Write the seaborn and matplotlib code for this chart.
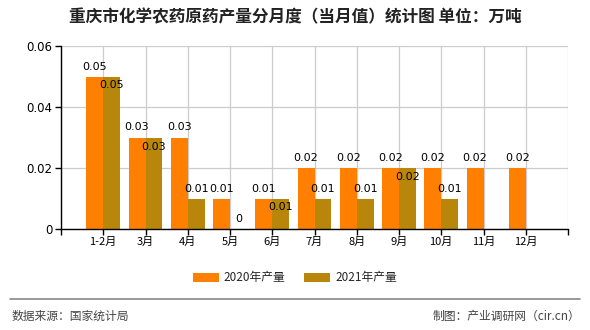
import matplotlib
matplotlib.use("Agg")
import matplotlib.pyplot as plt
import seaborn as sns
import pandas as pd
import numpy as np

categories = ["1-2月", "3月", "4月", "5月", "6月", "7月", "8月", "9月", "10月", "11月", "12月"]
values_2020 = [0.05, 0.03, 0.03, 0.01, 0.01, 0.02, 0.02, 0.02, 0.02, 0.02, 0.02]
values_2021 = [0.05, 0.03, 0.01, 0.0, 0.01, 0.01, 0.01, 0.02, 0.01, np.nan, np.nan]
series_names = ["2020年产量", "2021年产量"]
colors = ["#FF8000", "#B8860B"]
yticks = [0, 0.02, 0.04, 0.06]
ytick_labels = ["0", "0.02", "0.04", "0.06"]

sns.set_theme(style="white")
plt.rcParams['font.family'] = ['Noto Sans CJK SC', 'DejaVu Sans']

df = pd.DataFrame({
    "月份": categories * 2,
    "产量": values_2020 + values_2021,
    "系列": [series_names[0]] * len(categories) + [series_names[1]] * len(categories),
})

fig = plt.figure(figsize=(5.9, 3.3), dpi=100)
ax = fig.add_axes([61 / 590, 1 - 229 / 330, (568 - 61) / 590, (229 - 46) / 330])

sns.barplot(data=df, x="月份", y="产量", hue="系列", order=categories,
            hue_order=series_names, palette=colors, width=0.8, saturation=1,
            ax=ax, legend=False)

for p in ax.patches:
    p.set_edgecolor("none")

ax.set_xlim(-1, len(categories))
ax.set_ylim(0, 0.06)
ax.set_xticks(range(-1, len(categories) + 1))
ax.set_xticklabels([""] + categories + [""], fontsize=8)
ax.set_yticks(yticks)
ax.set_yticklabels(ytick_labels, fontsize=8.5, family="DejaVu Sans")
ax.set_xlabel("")
ax.set_ylabel("")

ax.grid(True, color="#cccccc", linewidth=0.9)
ax.set_axisbelow(True)
for s in ["top", "right"]:
    ax.spines[s].set_visible(False)
for s in ["left", "bottom"]:
    ax.spines[s].set_color("black")
    ax.spines[s].set_linewidth(1)
ax.tick_params(axis="both", which="both", length=4, width=1, color="black", pad=2,
               bottom=True, left=True, labelcolor="black")

# data labels
n = len(categories)
bw = 0.4
for i in range(n):
    v0 = values_2020[i]
    v1 = values_2021[i]
    x0 = i - bw / 2
    x1 = i + bw / 2
    ax.annotate(f"{v0:g}", (x0, v0), xytext=(0, 5), textcoords="offset pixels",
                ha="center", va="bottom", fontsize=8, family="DejaVu Sans", color="black")
    if not np.isnan(v1):
        if abs(v1 - v0) < 1e-9:
            ax.annotate(f"{v1:g}", (x1, v1), xytext=(0, -9), textcoords="offset pixels",
                        ha="center", va="center", fontsize=8, family="DejaVu Sans", color="black")
        else:
            ax.annotate(f"{v1:g}", (x1, v1), xytext=(0, 5), textcoords="offset pixels",
                        ha="center", va="bottom", fontsize=8, family="DejaVu Sans", color="black")

fig.text(0.5, 1 - 17 / 330, "重庆市化学农药原药产量分月度（当月值）统计图 单位：万吨",
         ha="center", va="center", fontsize=12, fontweight="bold", color="#222222")

# legend
from matplotlib.patches import Patch
handles = [Patch(facecolor=c, edgecolor="none") for c in colors]
fig.legend(handles, series_names, loc="center", bbox_to_anchor=(0.5, 1 - 278 / 330),
           ncol=2, frameon=False, fontsize=8.5, handlelength=2.2, handleheight=0.8,
           columnspacing=1.6, handletextpad=0.4)

# separator line and footer
fig.add_artist(plt.Line2D([10 / 590, 580 / 590], [1 - 299 / 330, 1 - 299 / 330],
                          color="#888888", linewidth=1.2))
fig.text(12 / 590, 1 - 316 / 330, "数据来源：国家统计局", ha="left", va="center",
         fontsize=8.5, color="#444444")
fig.text(580 / 590, 1 - 316 / 330, "制图：产业调研网（cir.cn）", ha="right", va="center",
         fontsize=8.5, color="#444444")

fig.savefig("out.png", dpi=100)
